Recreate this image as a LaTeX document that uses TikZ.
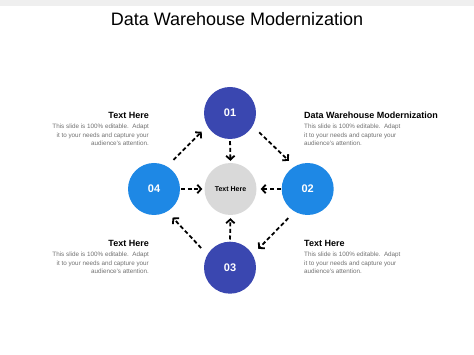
\documentclass[tikz,border=0pt]{standalone}
\usepackage{fontspec}
\setmainfont{Liberation Sans}
\usetikzlibrary{arrows.meta}
\definecolor{dkblue}{HTML}{3A47B0}
\definecolor{ltblue}{HTML}{1E88E5}
\definecolor{ctrgray}{HTML}{D9D9D9}
\definecolor{bodygray}{HTML}{707070}
\definecolor{bargray}{HTML}{EFEFEF}
\begin{document}
\begin{tikzpicture}[x=1pt,y=-1pt,
  circ/.style={circle,minimum size=52pt,inner sep=0pt,text=white,font=\bfseries\fontsize{11}{13}\selectfont},
  flow/.style={line width=1.8pt,dash pattern=on 4pt off 2.6pt,-{Straight Barb[length=3.8pt,width=8.5pt]}},
  headL/.style={anchor=base east,inner sep=0pt,font=\bfseries\fontsize{9}{11}\selectfont},
  headR/.style={anchor=base west,inner sep=0pt,font=\bfseries\fontsize{9}{11}\selectfont},
  bodyL/.style={anchor=north east,inner sep=0pt,align=right,text=bodygray,font=\fontsize{6.3}{8.7}\selectfont},
  bodyR/.style={anchor=north west,inner sep=0pt,align=left,text=bodygray,font=\fontsize{6.3}{8.7}\selectfont}]
\useasboundingbox (0,0) rectangle (474,355);
\fill[bargray] (0,0) rectangle (474,6.5);
\node[anchor=base,inner sep=0pt,font=\fontsize{18}{20}\selectfont] (title) at (237,26) {Data Warehouse Modernization};

\node[circ,fill=dkblue] (c1) at (230,113) {01};
\node[circ,fill=ltblue] (c2) at (307.7,189) {02};
\node[circ,fill=dkblue] (c3) at (230,267.7) {03};
\node[circ,fill=ltblue] (c4) at (154,189) {04};
\node[circ,fill=ctrgray,text=black,font=\bfseries\fontsize{7}{8}\selectfont] (ctr) at (230.5,189) {Text Here};

\draw[flow,shorten <=9pt,shorten >=8pt] (c4.60) -- (c1.210);
\draw[flow,shorten <=9pt,shorten >=8pt] (c1.330) -- (c2.120);
\draw[flow,shorten <=9pt,shorten >=8pt] (c2.240) -- (c3.30);
\draw[flow,shorten <=9pt,shorten >=8pt] (c3.150) -- (c4.300);
\draw[flow,shorten <=2pt,shorten >=2pt] (c1.south) -- (ctr.north);
\draw[flow,shorten <=2pt,shorten >=3pt] (c3.north) -- (ctr.south);
\draw[flow,shorten <=1pt,shorten >=2pt] (c4.east) -- (ctr.west);
\draw[flow,shorten <=1pt,shorten >=4pt] (c2.west) -- (ctr.east);

\node[headL] (h1) at (149,118.5) {Text Here};
\node[bodyL] (b1) at (149,123.6) {This slide is 100\% editable.\ \ Adapt\\it to your needs and capture your\\audience's attention.};
\node[headR] (h2) at (304,118.5) {Data Warehouse Modernization};
\node[bodyR] (b2) at (304,123.6) {This slide is 100\% editable.\ \ Adapt\\it to your needs and capture your\\audience's attention.};
\node[headL] (h3) at (149,246.5) {Text Here};
\node[bodyL] (b3) at (149,251.6) {This slide is 100\% editable.\ \ Adapt\\it to your needs and capture your\\audience's attention.};
\node[headR] (h4) at (304,246.5) {Text Here};
\node[bodyR] (b4) at (304,251.6) {This slide is 100\% editable.\ \ Adapt\\it to your needs and capture your\\audience's attention.};
\end{tikzpicture}
\end{document}
